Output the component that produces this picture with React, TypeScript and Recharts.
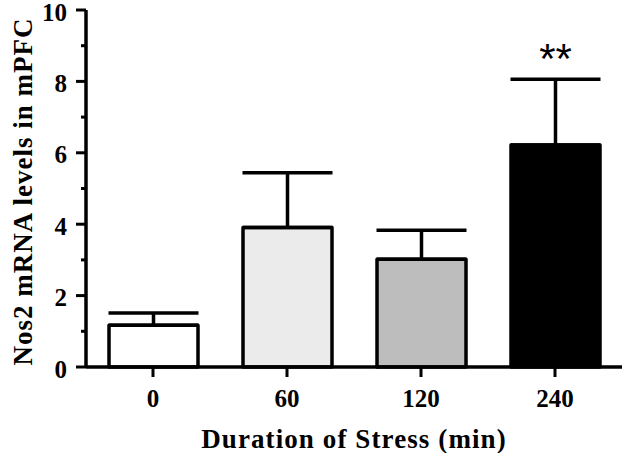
import { BarChart, Bar, XAxis, YAxis, ErrorBar, Cell, LabelList, Label } from "recharts";

const durations = ["0", "60", "120", "240"];
const meanLevels = [1.17, 3.91, 3.02, 6.22];
const semLevels = [0.34, 1.53, 0.81, 1.84];
const significance = ["", "", "", "**"];
const yTicks = [0, 1, 2, 3, 4, 5, 6, 7, 8, 9, 10];
const barFills = ["#ffffff", "#ebebeb", "#bdbdbd", "#000000"];

const data = durations.map((d, i) => ({
  duration: d,
  level: meanLevels[i],
  err: [0, semLevels[i]],
  sig: significance[i],
}));

const serif = "Liberation Serif, Times New Roman, Times, serif";
const AXIS_X = 86;

const YTick = (props: any) => {
  const { y, payload } = props;
  const major = payload.value % 2 === 0;
  return (
    <g>
      <line
        x1={AXIS_X - (major ? 10 : 5)}
        x2={AXIS_X}
        y1={y}
        y2={y}
        stroke="#000"
        strokeWidth={3}
      />
      {major && (
        <text
          x={AXIS_X - 19}
          y={y + 2}
          textAnchor="end"
          dominantBaseline="central"
          style={{ fontFamily: serif, fontWeight: 700, fontSize: 25 }}
          fill="#000"
        >
          {payload.value}
        </text>
      )}
    </g>
  );
};

const YTitle = (props: any) => {
  const vb = props.viewBox;
  const cx = 23;
  const cy = vb.y + vb.height / 2 + 3;
  return (
    <text
      x={cx}
      y={cy}
      transform={`rotate(-90 ${cx} ${cy})`}
      textAnchor="middle"
      dominantBaseline="central"
      style={{ fontFamily: serif, fontWeight: 700, fontSize: 27, letterSpacing: 1 }}
      fill="#000"
    >
      Nos2 mRNA levels in mPFC
    </text>
  );
};

const Stars = (props: any) => {
  const { value, index } = props;
  if (!value) return null;
  const vb = props.viewBox || props;
  const x = vb.x ?? props.x;
  const y = vb.y ?? props.y;
  const width = vb.width ?? props.width;
  const height = vb.height ?? props.height;
  const px = height / meanLevels[index];
  const capY = y - semLevels[index] * px;
  return (
    <text
      x={x + width / 2}
      y={capY - 6}
      textAnchor="middle"
      style={{ fontFamily: "Liberation Sans, Arial, sans-serif", fontSize: 42 }}
      fill="#000"
    >
      {value}
    </text>
  );
};

export default function App() {
  return (
    <div style={{ position: "absolute", left: 0, top: 0, width: 625, height: 453, background: "#fff" }}>
      <BarChart
        width={625}
        height={453}
        data={data}
        margin={{ top: 10, right: 3, left: 0, bottom: 0 }}
        barSize={89}
      >
        <XAxis
          dataKey="duration"
          height={86}
          axisLine={{ stroke: "#000", strokeWidth: 3.5 }}
          tickLine={{ stroke: "#000", strokeWidth: 3 }}
          tickSize={10}
          tickMargin={12}
          tick={{ fill: "#000", style: { fontFamily: serif, fontWeight: 700, fontSize: 25 } }}
        >
          <Label
            value="Duration of Stress (min)"
            position="insideBottom"
            offset={5}
            fill="#000"
            style={{ fontFamily: serif, fontWeight: 700, fontSize: 27, letterSpacing: 1.1 }}
          />
        </XAxis>
        <YAxis
          width={AXIS_X}
          domain={[0, 10]}
          ticks={yTicks}
          interval={0}
          axisLine={{ stroke: "#000", strokeWidth: 3.5 }}
          tickLine={false}
          tick={<YTick />}
        >
          <Label content={<YTitle />} />
        </YAxis>
        <Bar
          dataKey="level"
          stroke="#000"
          strokeWidth={3.5}
          strokeLinejoin="round"
          isAnimationActive={false}
        >
          {data.map((d, i) => (
            <Cell key={d.duration} fill={barFills[i]} />
          ))}
          <ErrorBar dataKey="err" direction="y" width={45} stroke="#000" strokeWidth={3.5} />
          <LabelList dataKey="sig" content={<Stars />} />
        </Bar>
      </BarChart>
    </div>
  );
}
